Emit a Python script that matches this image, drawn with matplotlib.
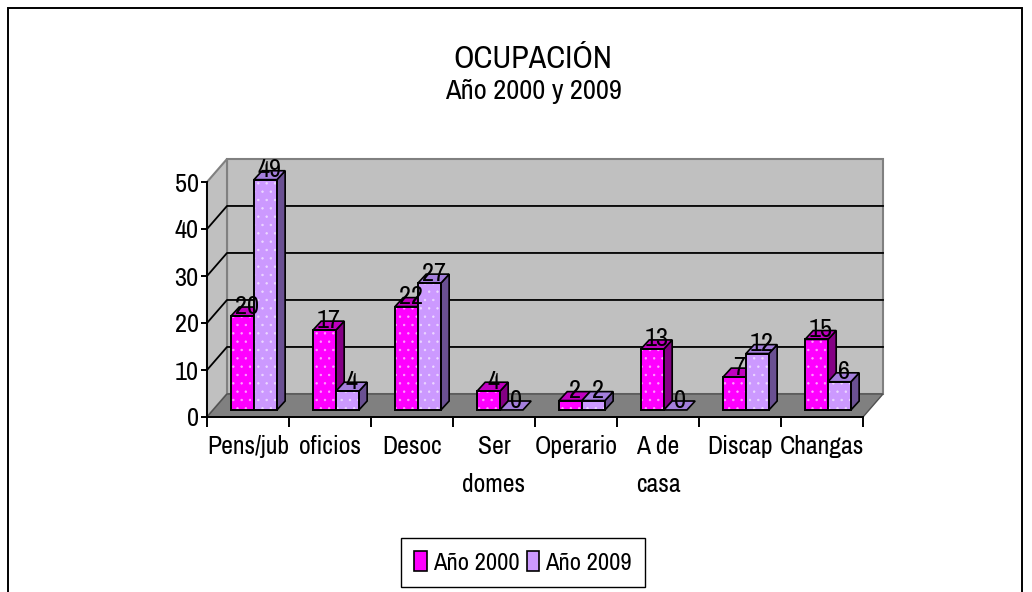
#!/usr/bin/env python3
"""Oblique 3D style clustered bars: ocupación, año 2000 y 2009."""

import matplotlib
matplotlib.use("Agg")
import matplotlib.pyplot as plt
from matplotlib.patches import Patch, Polygon, Rectangle

plt.rcParams["font.family"] = ["Archivo Narrow", "Liberation Sans", "DejaVu Sans"]
plt.rcParams["hatch.linewidth"] = 0.5

categories = ["Pens/jub", "oficios", "Desoc", "Ser\ndomes", "Operario", "A de\ncasa", "Discap", "Changas"]
year_2000 = [20, 17, 22, 4, 2, 13, 7, 15]
year_2009 = [49, 4, 27, 0, 2, 0, 12, 6]
y_ticks = [0, 10, 20, 30, 40, 50]
legend_labels = ["Año 2000", "Año 2009"]

W, H = 1032, 592
# front plane of the chart in pixels
LEFT, RIGHT, TOP, BOTTOM = 207, 863, 182, 417

# depth offsets in data units
WALL_DX, WALL_DY = 0.244, 4.9
BAR_X0, BAR_W = 0.293, 0.28
BAR_LIFT = 1.5
BAR_DX, BAR_DY = 0.1, 1.9

# front, top, side, dots
PINK = ("#ff00ff", "#c000c0", "#840084", "#ffa0ff")
PURPLE = ("#cc99ff", "#a47fdc", "#6a5092", "#ecd8ff")


def draw_walls(ax):
    n, top = len(categories), y_ticks[-1]
    ax.add_patch(Polygon([(WALL_DX, WALL_DY), (n + WALL_DX, WALL_DY), (n + WALL_DX, top + WALL_DY),
                          (WALL_DX, top + WALL_DY)], fc="#c0c0c0", ec="#808080", lw=1.5, zorder=1,
                         clip_on=False))
    ax.add_patch(Polygon([(0, 0), (WALL_DX, WALL_DY), (WALL_DX, top + WALL_DY), (0, top)],
                         fc="#c0c0c0", ec="#808080", lw=1.5, zorder=1, clip_on=False))
    for t in y_ticks[1:-1]:
        ax.plot([0, WALL_DX, n + WALL_DX], [t, t + WALL_DY, t + WALL_DY], color="black", lw=1.3,
                zorder=2, clip_on=False)
    ax.add_patch(Polygon([(0, 0), (n, 0), (n + WALL_DX, WALL_DY), (WALL_DX, WALL_DY)],
                         fc="#808080", ec="#505050", lw=1, zorder=3, clip_on=False))


def draw_bar(ax, x, value, colors, z):
    base = BAR_LIFT
    front, top, side, dots = colors
    y1 = base + value
    if value > 0:
        ax.bar(x, value, BAR_W, bottom=base, align="edge", color=front, edgecolor=dots,
               hatch="..", linewidth=0, zorder=z, clip_on=False)
        ax.add_patch(Rectangle((x, base), BAR_W, value, fill=False, ec="black", lw=1.4, zorder=z + 0.2,
                               clip_on=False))
        ax.add_patch(Polygon([(x + BAR_W, base), (x + BAR_W + BAR_DX, base + BAR_DY),
                              (x + BAR_W + BAR_DX, y1 + BAR_DY), (x + BAR_W, y1)],
                             fc=side, ec="black", lw=1.2, zorder=z, clip_on=False))
    ax.add_patch(Polygon([(x, y1), (x + BAR_W, y1), (x + BAR_W + BAR_DX, y1 + BAR_DY), (x + BAR_DX, y1 + BAR_DY)],
                         fc=top, ec="black", lw=1.2, zorder=z, clip_on=False))


def main():
    fig = plt.figure(figsize=(W / 100, H / 100), dpi=100, facecolor="white")
    ax = fig.add_axes([LEFT / W, 1 - BOTTOM / H, (RIGHT - LEFT) / W, (BOTTOM - TOP) / H])
    ax.set_xlim(0, len(categories))
    ax.set_ylim(0, y_ticks[-1])
    ax.patch.set_visible(False)
    for name in ("top", "right"):
        ax.spines[name].set_visible(False)
    for name in ("left", "bottom"):
        ax.spines[name].set_linewidth(1.4)
        ax.spines[name].set_zorder(4)

    draw_walls(ax)

    for i, (a, b) in enumerate(zip(year_2000, year_2009)):
        z = 5 + i
        draw_bar(ax, i + BAR_X0, a, PINK, z)
        draw_bar(ax, i + BAR_X0 + BAR_W, b, PURPLE, z + 0.4)

    for i, (a, b) in enumerate(zip(year_2000, year_2009)):
        for x, v in ((i + BAR_X0, a), (i + BAR_X0 + BAR_W, b)):
            ax.text(x + BAR_W / 2 + 0.055, v + BAR_LIFT + 2.1, str(v), ha="center", va="center",
                    fontsize=19, color="black", zorder=30, clip_on=False)

    ax.set_yticks(y_ticks)
    ax.tick_params(axis="y", labelsize=19, length=4, width=1.4, pad=2)
    ax.set_xticks(range(len(categories) + 1))
    ax.set_xticklabels([])
    ax.tick_params(axis="x", which="major", length=7, width=1.4)
    ax.set_xticks([i + 0.5 for i in range(len(categories))], minor=True)
    ax.set_xticklabels(categories, minor=True, fontsize=18.5, linespacing=1.8, va="top")
    ax.tick_params(axis="x", which="minor", length=0, pad=13)

    # figure border, open at the bottom edge
    fig.add_artist(Rectangle((8 / W, -0.05), (W - 18) / W, 1.05 - 8 / H, transform=fig.transFigure,
                             fill=False, ec="black", lw=1.4))

    fig.text(533 / W, 1 - 59 / H, "OCUPACIÓN", ha="center", va="center", fontsize=23)
    fig.text(533 / W, 1 - 92 / H, "Año 2000 y 2009", ha="center", va="center", fontsize=20.5)

    handles = [Patch(fc=PINK[0], ec="black", lw=1.2), Patch(fc=PURPLE[0], ec="black", lw=1.2)]
    fig.legend(handles, legend_labels, loc="center", bbox_to_anchor=(523 / W, 1 - 562.5 / H), ncol=2,
               fontsize=17.7, frameon=True, fancybox=False, framealpha=1, edgecolor="black",
               handlelength=0.5, handleheight=0.85, handletextpad=0.25, columnspacing=0.3, borderpad=0.55)

    fig.savefig("out.png", dpi=100)


if __name__ == "__main__":
    main()
